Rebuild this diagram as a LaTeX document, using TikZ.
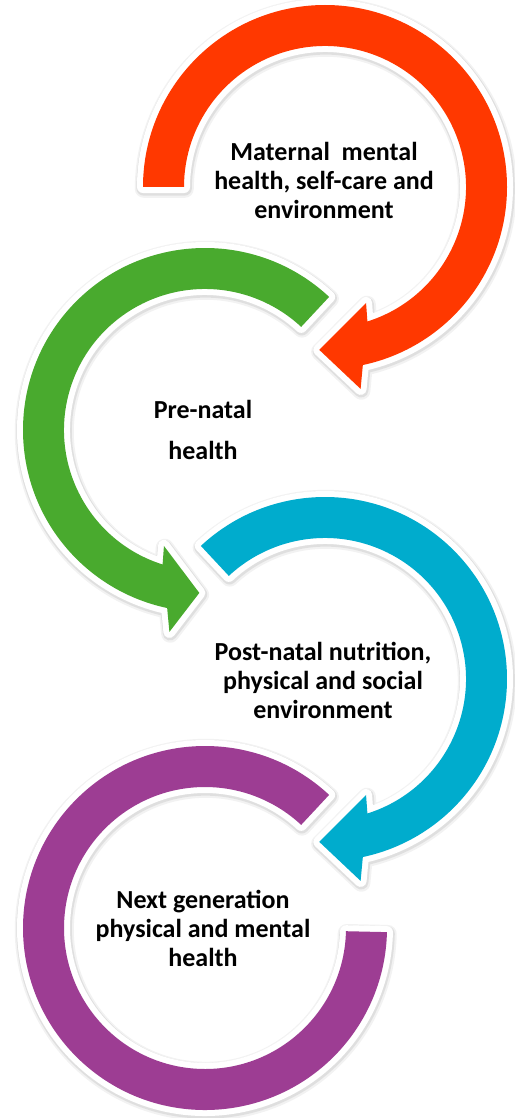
\documentclass[tikz,border=0pt]{standalone}
\usepackage{fontspec}
\setmainfont{Carlito}
\definecolor{matred}{RGB}{255,56,0}
\definecolor{pregreen}{RGB}{73,170,46}
\definecolor{postblue}{RGB}{0,172,205}
\definecolor{nextpurple}{RGB}{157,61,147}
\tikzset{
  ringarrow/.style={line join=round,
    preaction={draw=black, draw opacity=0.05, line width=18pt, line join=round, transform canvas={shift={(0.8pt,-1.8pt)}}},
    preaction={draw=black, draw opacity=0.08, line width=14.5pt, line join=round, transform canvas={shift={(0.6pt,-1.4pt)}}},
    preaction={draw=white, line width=12pt, line join=round},
    fill=#1},
  cyctext/.style={font=\bfseries\fontsize{26}{29}\selectfont, align=center}
}
\begin{document}
\begin{tikzpicture}[x=1pt, y=1pt]
    \useasboundingbox (0,0) rectangle (514,-1118);

    \coordinate (cred) at (325,-187);
    \coordinate (cgreen) at (205,-430);
    \coordinate (cblue) at (325,-679);
    \coordinate (cpurple) at (205,-928);

    % maternal
    \begin{scope}[shift={(cred)}]
        \path[ringarrow=matred] (180:182pt) arc[start angle=180, end angle=-78, radius=182pt]
            -- (-80:205pt) -- (-92:163pt) -- (-70.5:123pt) -- (-72.5:141pt)
            arc[start angle=-72.5, end angle=180, radius=141pt] -- cycle;
    \end{scope}

    % pre-natal
    \begin{scope}[shift={(cgreen)}]
        \path[ringarrow=pregreen] (47:182pt) arc[start angle=47, end angle=258, radius=182pt]
            -- (260:205pt) -- (268:163pt) -- (250.5:123pt) -- (252.5:141pt)
            arc[start angle=252.5, end angle=47, radius=141pt] -- cycle;
    \end{scope}

    % post-natal
    \begin{scope}[shift={(cblue)}]
        \path[ringarrow=postblue] (133:182pt) arc[start angle=133, end angle=-78, radius=182pt]
            -- (-80:205pt) -- (-92:163pt) -- (-70.5:123pt) -- (-72.5:141pt)
            arc[start angle=-72.5, end angle=133, radius=141pt] -- cycle;
    \end{scope}

    % next generation
    \begin{scope}[shift={(cpurple)}]
        \path[ringarrow=nextpurple] (47:182pt) arc[start angle=47, end angle=358.7, radius=182pt]
            -- (358.7:141pt) arc[start angle=358.7, end angle=47, radius=141pt] -- cycle;
    \end{scope}

    \node[cyctext] (maternal) at (324,-180) {Maternal~ mental\\health, self-care and\\environment};
    \node[cyctext] (prenatal) at (203,-429.5) {Pre-natal\\[12pt]health};
    \node[cyctext] (postnatal) at (323,-680.5) {Post-natal nutrition,\\physical and social\\environment};
    \node[cyctext] (nextgen) at (203,-928.5) {Next generation\\physical and mental\\health};
\end{tikzpicture}
\end{document}
